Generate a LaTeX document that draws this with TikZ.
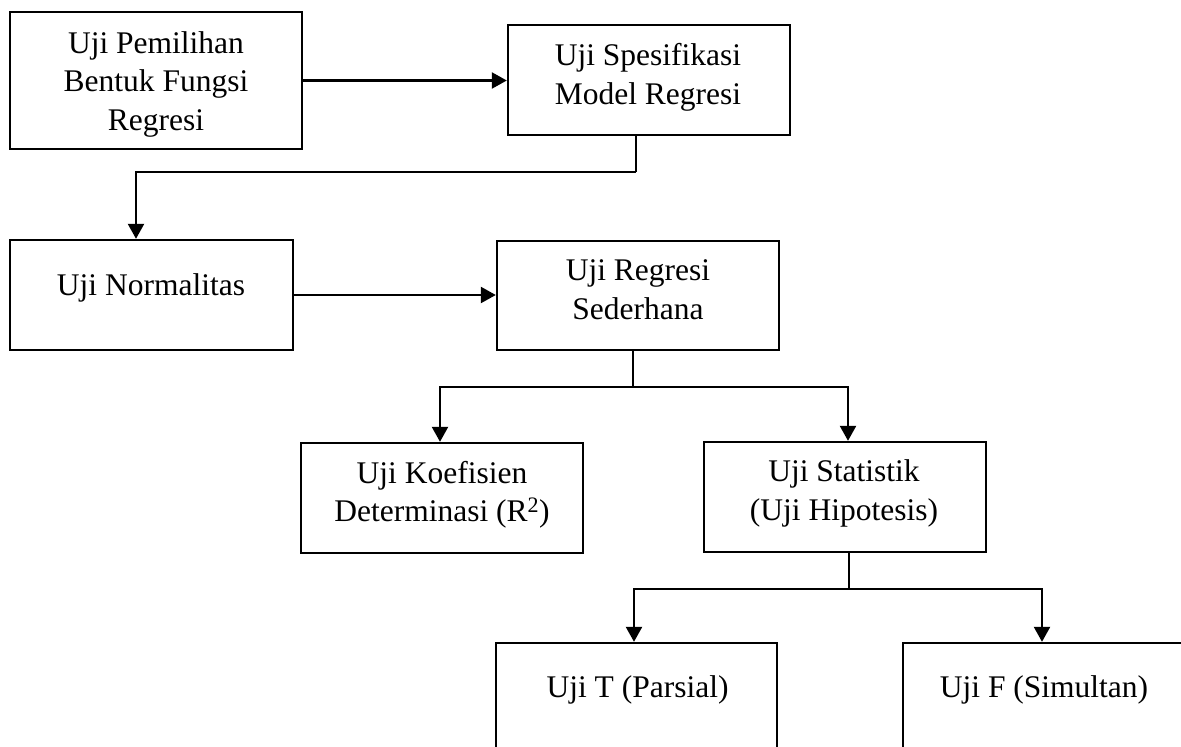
\documentclass[tikz,border=0pt]{standalone}
\usepackage{fontspec}
\setmainfont{Liberation Serif}
\usetikzlibrary{arrows.meta}
\tikzset{
  box/.style={draw=black, line width=2.4pt, rectangle, inner sep=0pt},
  txt/.style={inner sep=0pt, align=center, font=\fontsize{31.5}{38.5}\selectfont},
  arr/.style={draw=black, line width=2.4pt, -{Triangle[length=15pt,width=16pt]}},
  conn/.style={draw=black, line width=2.4pt},
}
\begin{document}
\begin{tikzpicture}[x=1pt,y=-1pt]
\useasboundingbox (0,0) rectangle (1181,747);
\clip (0,0) rectangle (1181,747);
% boxes
\node[box, minimum width=292pt, minimum height=137pt] (b1) at (156,80.5) {};
\node[box, minimum width=282pt, minimum height=110pt] (b2) at (649,80) {};
\node[box, minimum width=283pt, minimum height=110pt] (b3) at (151.5,295) {};
\node[box, minimum width=282pt, minimum height=109pt] (b4) at (638,295.5) {};
\node[box, minimum width=282pt, minimum height=110pt] (b5) at (442,498) {};
\node[box, minimum width=282pt, minimum height=110pt] (b6) at (845,497) {};
\node[box, minimum width=281pt, minimum height=140pt] (b7) at (636.5,713) {};
\node[box, minimum width=282pt, minimum height=140pt] (b8) at (1044,713) {};
% texts
\node[txt] (t1) at (156,84) {Uji Pemilihan\\Bentuk Fungsi\\Regresi};
\node[txt] (t2) at (648,77.5) {Uji Spesifikasi\\Model Regresi};
\node[txt] (t3) at (151,287.5) {Uji Normalitas};
\node[txt] (t4) at (638,289.5) {Uji Regresi\\Sederhana};
\node[txt] (t5) at (442,495) {Uji Koefisien\\Determinasi (R\textsuperscript{2})};
\node[txt] (t6) at (844,493.5) {Uji Statistik\\(Uji Hipotesis)};
\node[txt] (t7) at (637.5,689.5) {Uji T (Parsial)};
\node[txt] (t8) at (1044,689.5) {Uji F (Simultan)};
% connectors
\coordinate (j0) at (636,172);
\coordinate (j1) at (633,387);
\coordinate (j2) at (849,589);
\draw[arr] (b1.east) -- (b1.east -| b2.west);
\draw[conn] (b2.south -| j0) -- (j0);
\draw[arr] (j0) -| ([xshift=-15.5pt]b3.north);
\draw[arr] (b3.east) -- (b3.east -| b4.west);
\draw[conn] (b4.south -| j1) -- (j1);
\draw[arr] (j1) -| ([xshift=-2pt]b5.north);
\draw[arr] (j1) -| ([xshift=3pt]b6.north);
\draw[conn] (b6.south -| j2) -- (j2);
\draw[arr] (j2) -| ([xshift=-2.5pt]b7.north);
\draw[arr] (j2) -| ([xshift=-2pt]b8.north);
\end{tikzpicture}
\end{document}
